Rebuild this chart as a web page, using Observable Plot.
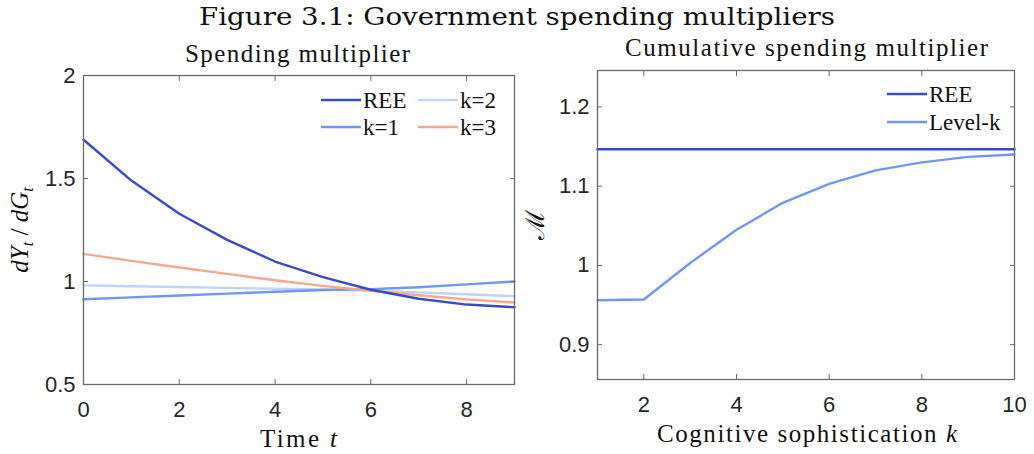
<!DOCTYPE html>
<html>
<head>
<meta charset="utf-8">
<script src="https://cdn.jsdelivr.net/npm/d3@7"></script>
<script src="https://cdn.jsdelivr.net/npm/@observablehq/plot@0.6"></script>
<style>
  body { margin: 0; background: #fff; }
  #wrap { position: relative; width: 1034px; height: 454px; overflow: hidden; background: #fff; }
  .abs { position: absolute; }
  #overlay { position: absolute; left: 0; top: 0; pointer-events: none; }
  .leg { position: absolute; font-family: "Liberation Serif", serif; font-size: 23px; color: #111; display: flex; align-items: center; white-space: nowrap; line-height: 1; }
  .leg svg { margin-right: 2px; }
</style>
</head>
<body>
<div id="wrap">
  <div id="left" class="abs" style="left:0;top:40px;"></div>
  <div id="right" class="abs" style="left:520px;top:40px;"></div>
  <svg id="overlay" width="1034" height="454" xmlns="http://www.w3.org/2000/svg">
    <g fill="#111">
      <text x="517" y="25" text-anchor="middle" style="font-family:'DejaVu Serif',serif;font-size:24px" textLength="636" lengthAdjust="spacingAndGlyphs">Figure 3.1: Government spending multipliers</text>
      <text x="297.5" y="61.5" text-anchor="middle" style="font-family:'Liberation Serif',serif;font-size:25px" textLength="225" lengthAdjust="spacing">Spending multiplier</text>
      <text x="806.5" y="56" text-anchor="middle" style="font-family:'Liberation Serif',serif;font-size:25px" textLength="363" lengthAdjust="spacing">Cumulative spending multiplier</text>
      <text x="298.5" y="447" text-anchor="middle" style="font-family:'Liberation Serif',serif;font-size:25px" textLength="77" lengthAdjust="spacing">Time <tspan font-style="italic">t</tspan></text>
      <text x="807" y="442" text-anchor="middle" style="font-family:'Liberation Serif',serif;font-size:25px" textLength="300" lengthAdjust="spacing">Cognitive sophistication <tspan font-style="italic">k</tspan></text>
      <text transform="translate(28,230) rotate(-90)" text-anchor="middle" style="font-family:'Liberation Serif',serif;font-size:25px;font-style:italic"><tspan>dY</tspan><tspan font-size="16" dy="5">t</tspan><tspan dy="-5" font-style="normal"> / </tspan><tspan>dG</tspan><tspan font-size="16" dy="5">t</tspan></text>
      <text transform="translate(544,225) rotate(-90)" text-anchor="middle" style="font-family:'DejaVu Serif',serif;font-size:26px">ℳ</text>
    </g>
  </svg>
  <div id="legL"></div>
  <div id="legR"></div>
</div>
<script>
// ---- Data: left panel (spending multiplier dY_t/dG_t by time t) ----
const time = [0, 1, 2, 3, 4, 5, 6, 7, 8, 9];
const reeMult = [1.688, 1.490, 1.329, 1.202, 1.097, 1.021, 0.960, 0.916, 0.888, 0.875];
const k1Mult  = [0.914, 0.923, 0.932, 0.941, 0.950, 0.959, 0.963, 0.972, 0.986, 1.000];
const k2Mult  = [0.981, 0.977, 0.973, 0.969, 0.965, 0.961, 0.956, 0.947, 0.938, 0.929];
const k3Mult  = [1.134, 1.100, 1.068, 1.037, 1.006, 0.979, 0.955, 0.933, 0.913, 0.898];
const leftSeries = ["REE", "k=1", "k=2", "k=3"];
const leftColors = ["#3b4cc0", "#7097f1", "#bfd3f6", "#f4a98e"];
const leftXTicks = [0, 2, 4, 6, 8];
const leftYTicks = [0.5, 1, 1.5, 2];

// ---- Data: right panel (cumulative multiplier by cognitive sophistication k) ----
const kLevel = [1, 2, 3, 4, 5, 6, 7, 8, 9, 10];
const levelKCum = [0.956, 0.957, 1.003, 1.045, 1.079, 1.103, 1.120, 1.130, 1.137, 1.140];
const reeCum = 1.1467;
const rightSeries = ["REE", "Level-k"];
const rightColors = ["#3b4cc0", "#7097f1"];
const rightXTicks = [2, 4, 6, 8, 10];
const rightYTicks = [0.9, 1, 1.1, 1.2];

const leftVals = [reeMult, k1Mult, k2Mult, k3Mult];
const leftData = [];
leftSeries.forEach((s, i) => time.forEach((t, j) => leftData.push({series: s, t, v: leftVals[i][j]})));
const order = ["k=2", "k=1", "k=3", "REE"];
leftData.sort((a, b) => order.indexOf(a.series) - order.indexOf(b.series));

const rightData = [];
kLevel.forEach((k) => rightData.push({series: "REE", k, v: reeCum}));
kLevel.forEach((k, j) => rightData.push({series: "Level-k", k, v: levelKCum[j]}));

const style = {fontFamily: "'Liberation Sans', Arial, sans-serif", fontSize: "22px", color: "#262626", background: "transparent", overflow: "visible"};
const frameColor = "#6a6a6a";
const tickFont = 22;

function boxAxes(xt, yt) {
  return [
    Plot.axisX(xt, {anchor: "bottom", tickSize: -5, text: null, label: null, stroke: frameColor}),
    Plot.axisX(xt, {anchor: "top", tickSize: -5, text: null, label: null, stroke: frameColor}),
    Plot.axisY(yt, {anchor: "left", tickSize: -5, text: null, label: null, stroke: frameColor}),
    Plot.axisY(yt, {anchor: "right", tickSize: -5, text: null, label: null, stroke: frameColor}),
    Plot.axisX(xt, {anchor: "bottom", tickSize: 0, tickPadding: 17, label: null, fill: "#262626", fontSize: tickFont, tickFormat: d => String(d)}),
    Plot.axisY(yt, {anchor: "left", tickSize: 0, tickPadding: 8, label: null, fill: "#262626", fontSize: tickFont, tickFormat: d => String(d)}),
    Plot.frame({stroke: frameColor, strokeWidth: 1.3})
  ];
}

const left = Plot.plot({
  width: 520, height: 414,
  marginLeft: 83, marginRight: 6, marginTop: 35, marginBottom: 70,
  style,
  x: {domain: [0, 9], label: null},
  y: {domain: [0.5, 2], label: null},
  color: {domain: leftSeries, range: leftColors},
  marks: [
    Plot.line(leftData, {x: "t", y: "v", stroke: "series", z: "series", strokeWidth: 2.4}),
    ...boxAxes(leftXTicks, leftYTicks)
  ]
});
document.getElementById("left").appendChild(left);

const right = Plot.plot({
  width: 514, height: 414,
  marginLeft: 77, marginRight: 20, marginTop: 30, marginBottom: 75,
  style,
  x: {domain: [1, 10], label: null},
  y: {domain: [0.856, 1.246], label: null},
  color: {domain: rightSeries, range: rightColors},
  marks: [
    Plot.line(rightData, {x: "k", y: "v", stroke: "series", z: "series", strokeWidth: 2.4}),
    ...boxAxes(rightXTicks, rightYTicks)
  ]
});
document.getElementById("right").appendChild(right);

// ---- Legends ----
function legItem(container, label, color, left, cy) {
  const d = document.createElement("div");
  d.className = "leg";
  d.style.left = left + "px";
  d.style.top = (cy - 12) + "px";
  d.style.height = "24px";
  d.innerHTML = `<svg width="40" height="6"><line x1="0" y1="3" x2="40" y2="3" stroke="${color}" stroke-width="2.6"/></svg><span>${label}</span>`;
  container.appendChild(d);
}
const legL = document.getElementById("legL");
const legLayout = {"REE": [321, 100], "k=2": [418, 100], "k=1": [321, 127], "k=3": [418, 127]};
leftSeries.forEach((s, i) => legItem(legL, s, leftColors[i], legLayout[s][0], legLayout[s][1]));
const legR = document.getElementById("legR");
const legRLayout = {"REE": [887, 94], "Level-k": [887, 122]};
rightSeries.forEach((s, i) => legItem(legR, s, rightColors[i], legRLayout[s][0], legRLayout[s][1]));
</script>
</body>
</html>
